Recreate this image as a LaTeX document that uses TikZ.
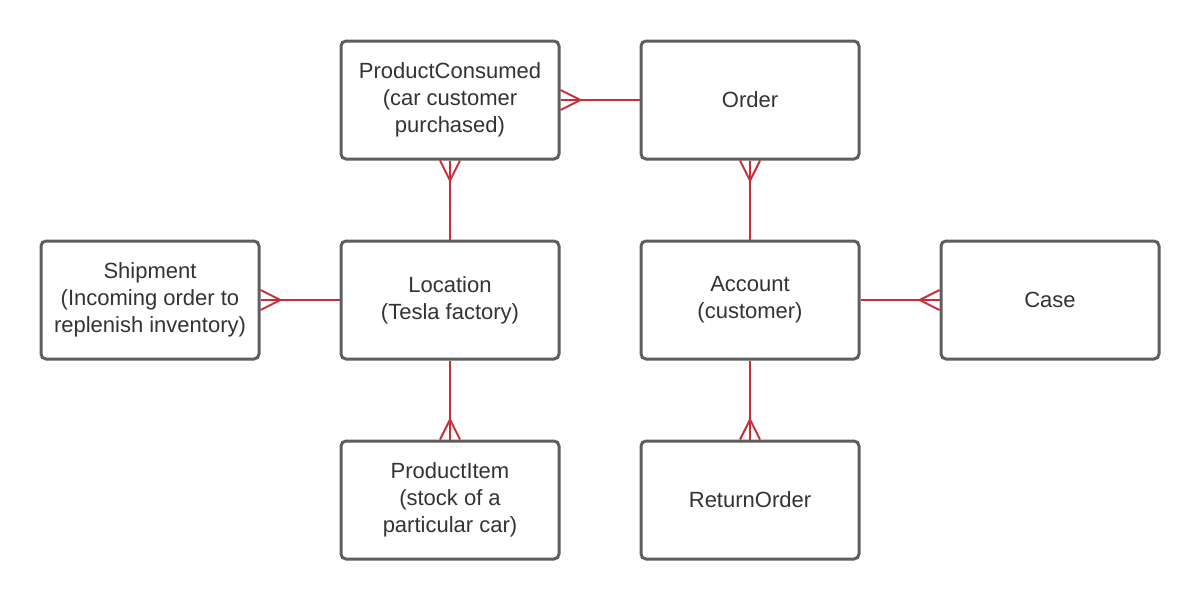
\documentclass[tikz,border=0pt]{standalone}
\usepackage{fontspec}
\setmainfont{Liberation Sans}
\usepackage{tikz}

\definecolor{boxline}{HTML}{5E5E5E}
\definecolor{relred}{HTML}{C92D39}
\definecolor{txt}{HTML}{333333}

\begin{document}
\begin{tikzpicture}[x=1pt, y=-1pt,
	entity/.style={draw=boxline, line width=3pt, rounded corners=5pt, fill=white, minimum width=218pt, minimum height=118pt, align=center, text=txt, font=\fontsize{22}{27}\selectfont},
	rel/.style={draw=relred, line width=2pt}]
	\useasboundingbox (0,0) rectangle (1200,600);
	% entities
	\node[entity] (consumed) at (450,100) {ProductConsumed\\(car customer\\purchased)};
	\node[entity] (order) at (750,100) {Order};
	\node[entity] (shipment) at (150,300) {Shipment\\(Incoming order to\\replenish inventory)};
	\node[entity] (location) at (450,300) {Location\\(Tesla factory)};
	\node[entity] (account) at (750,300) {Account\\(customer)};
	\node[entity] (case) at (1050,300) {Case};
	\node[entity] (item) at (450,500) {ProductItem\\(stock of a\\particular car)};
	\node[entity] (return) at (750,500) {ReturnOrder};
	% relations
	\draw[rel] (consumed.east) -- (order.west);
	\draw[rel] ([yshift=10pt]consumed.east) -- ++(20,10) -- ++(-20,10);
	\draw[rel] (consumed.south) -- (location.north);
	\draw[rel] ([xshift=-10pt]consumed.south) -- ++(10,20) -- ++(10,-20);
	\draw[rel] (shipment.east) -- (location.west);
	\draw[rel] ([yshift=10pt]shipment.east) -- ++(20,10) -- ++(-20,10);
	\draw[rel] (location.south) -- (item.north);
	\draw[rel] ([xshift=-10pt]item.north) -- ++(10,-20) -- ++(10,20);
	\draw[rel] (order.south) -- (account.north);
	\draw[rel] ([xshift=-10pt]order.south) -- ++(10,20) -- ++(10,-20);
	\draw[rel] (account.east) -- (case.west);
	\draw[rel] ([yshift=10pt]case.west) -- ++(-20,10) -- ++(20,10);
	\draw[rel] (account.south) -- (return.north);
	\draw[rel] ([xshift=-10pt]return.north) -- ++(10,-20) -- ++(10,20);
\end{tikzpicture}
\end{document}
